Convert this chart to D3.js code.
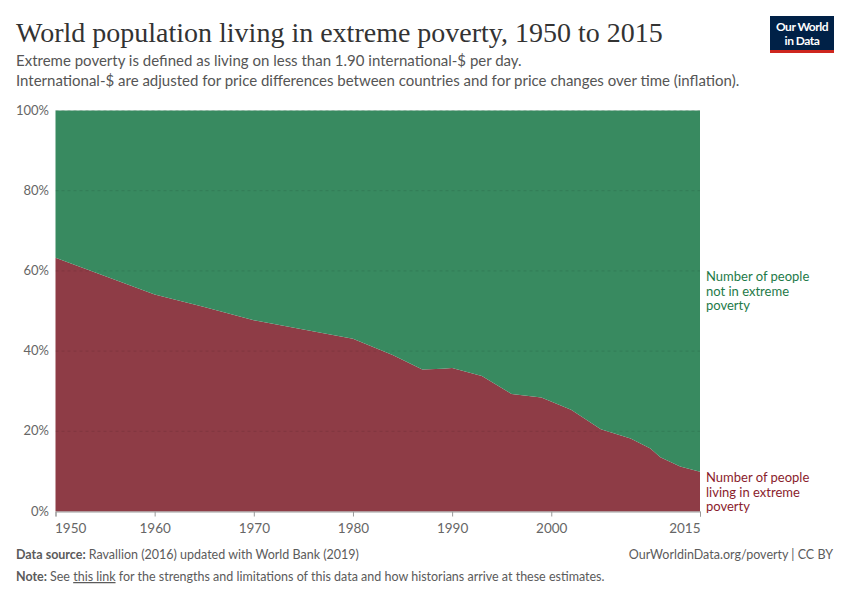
<!DOCTYPE html>
<html>
<head>
<meta charset="utf-8">
<script src="https://cdn.jsdelivr.net/npm/d3@7"></script>
<style>
  body { margin: 0; background: #fff; }
  text { font-family: Lato, "Noto Sans", sans-serif; }
</style>
</head>
<body>
<div id="chart"></div>
<script>
// data (share of world population, %)
var years = [1950, 1960, 1965, 1970, 1975, 1980, 1984, 1987, 1989, 1990, 1993, 1996, 1999, 2002, 2005, 2008, 2010, 2011, 2013, 2015];
var inPoverty = [63.3, 54.1, 51.0, 47.7, 45.4, 43.1, 39.0, 35.4, 35.6, 35.8, 33.8, 29.3, 28.4, 25.4, 20.5, 18.2, 15.7, 13.5, 11.2, 9.9];
var notInPoverty = [36.7, 45.9, 49.0, 52.3, 54.6, 56.9, 61.0, 64.6, 64.4, 64.2, 66.2, 70.7, 71.6, 74.6, 79.5, 81.8, 84.3, 86.5, 88.8, 90.1];
var seriesNames = ["Number of people living in extreme poverty", "Number of people not in extreme poverty"];
var xTicks = [1950, 1960, 1970, 1980, 1990, 2000, 2015];
var yTicks = [0, 20, 40, 60, 80, 100];

var width = 850,
    height = 600
var margin = {left: 55.5, right: 150, top: 110.5, bottom: 88.5}

var svg = d3.select("#chart").append("svg")
    .attr("width", width)
    .attr("height", height)

var rows = years.map(function(y, i){ return {year: y, poor: inPoverty[i], notPoor: notInPoverty[i]} })

var x = d3.scaleLinear().domain([1950, 2015]).range([margin.left, width - margin.right])
var y = d3.scaleLinear().domain([0, 100]).range([height - margin.bottom, margin.top])

var stack = d3.stack().keys(["poor", "notPoor"])
var layers = stack(rows)
var colors = ["#8e3c46", "#388a60"]

var area = d3.area()
    .x(function(d){ return x(d.data.year) })
    .y0(function(d){ return y(d[0]) })
    .y1(function(d){ return y(d[1]) })

svg.append("g").selectAll("path")
    .data(layers)
    .join("path")
    .attr("d", area)
    .attr("fill", function(d, i){ return colors[i] })

// gridlines over the areas
svg.append("g").selectAll("line")
    .data(yTicks.filter(function(t){ return t > 0 }))
    .join("line")
    .attr("x1", margin.left).attr("x2", width - margin.right)
    .attr("y1", function(d){ return y(d) }).attr("y2", function(d){ return y(d) })
    .attr("stroke", "#000")
    .attr("stroke-opacity", 0.1)
    .attr("stroke-dasharray", "3,3")

// y labels
svg.append("g").selectAll("text")
    .data(yTicks)
    .join("text")
    .attr("x", 49)
    .attr("y", function(d){ return y(d) + 4 })
    .attr("text-anchor", "end")
    .attr("font-size", 13)
    .attr("fill", "#666")
    .text(function(d){ return d + "%" })

// x axis
var xAxis = svg.append("g")
    .attr("transform", "translate(0," + (height - margin.bottom) + ")")
    .call(d3.axisBottom(x).tickValues(xTicks).tickFormat(d3.format("d")).tickSize(5).tickPadding(7))
xAxis.select(".domain").attr("stroke", "#999")
xAxis.selectAll(".tick line").attr("stroke", "#999")
xAxis.selectAll("text").attr("font-size", 13.5).attr("fill", "#666").attr("font-family", "Lato, sans-serif")
  .attr("text-anchor", function(d){ return d == 1950 ? "start" : (d == 2015 ? "end" : "middle") })
  .attr("dx", function(d){ return d == 1950 ? -1 : 0 })

// series labels on the right
var labelLines = [["Number of people", "not in extreme", "poverty"], ["Number of people", "living in extreme", "poverty"]]
var labelColors = ["#1e7a48", "#8a1c2c"]
var labelY = [281, 482]
labelLines.forEach(function(lines, i){
  var t = svg.append("text")
      .attr("x", 706)
      .attr("y", labelY[i])
      .attr("font-size", 13)
      .attr("fill", labelColors[i])
  lines.forEach(function(l, j){
    t.append("tspan").attr("x", 706).attr("dy", j == 0 ? 0 : 14.5).text(l)
  })
})

// title, subtitle
svg.append("text")
    .attr("x", 16).attr("y", 42)
    .style("font-family", "'Liberation Serif', 'DejaVu Serif', serif")
    .attr("font-size", 28)
    .attr("fill", "#333")
    .text("World population living in extreme poverty, 1950 to 2015")
svg.append("text")
    .attr("x", 16).attr("y", 66)
    .attr("font-size", 15).attr("fill", "#555")
    .text("Extreme poverty is defined as living on less than 1.90 international-$ per day.")
svg.append("text")
    .attr("x", 16).attr("y", 86)
    .attr("font-size", 15).attr("fill", "#555")
    .text("International-$ are adjusted for price differences between countries and for price changes over time (inflation).")

// logo
svg.append("rect").attr("x", 770).attr("y", 16).attr("width", 64).attr("height", 34).attr("fill", "#002147")
svg.append("rect").attr("x", 770).attr("y", 50).attr("width", 64).attr("height", 3).attr("fill", "#ce261e")
svg.append("text").attr("x", 802).attr("y", 31).attr("text-anchor", "middle").attr("font-weight", "bold")
    .attr("font-size", 12).attr("fill", "#fff").attr("letter-spacing", -0.5).text("Our World")
svg.append("text").attr("x", 802).attr("y", 45).attr("text-anchor", "middle").attr("font-weight", "bold")
    .attr("font-size", 12).attr("fill", "#fff").attr("letter-spacing", -0.5).text("in Data")

// footer
var src = svg.append("text").attr("x", 16).attr("y", 559).attr("font-size", 12.5).attr("fill", "#5b5b5b")
src.append("tspan").attr("font-weight", "bold").text("Data source: ")
src.append("tspan").text("Ravallion (2016) updated with World Bank (2019)")
svg.append("text").attr("x", 833).attr("y", 559).attr("text-anchor", "end")
    .attr("font-size", 12.5).attr("fill", "#5b5b5b").text("OurWorldinData.org/poverty | CC BY")
var note = svg.append("text").attr("x", 16).attr("y", 581).attr("font-size", 12.5).attr("fill", "#5b5b5b")
note.append("tspan").attr("font-weight", "bold").text("Note: ")
note.append("tspan").text("See ")
note.append("tspan").attr("text-decoration", "underline").text("this link")
note.append("tspan").text(" for the strengths and limitations of this data and how historians arrive at these estimates.")
</script>
</body>
</html>
